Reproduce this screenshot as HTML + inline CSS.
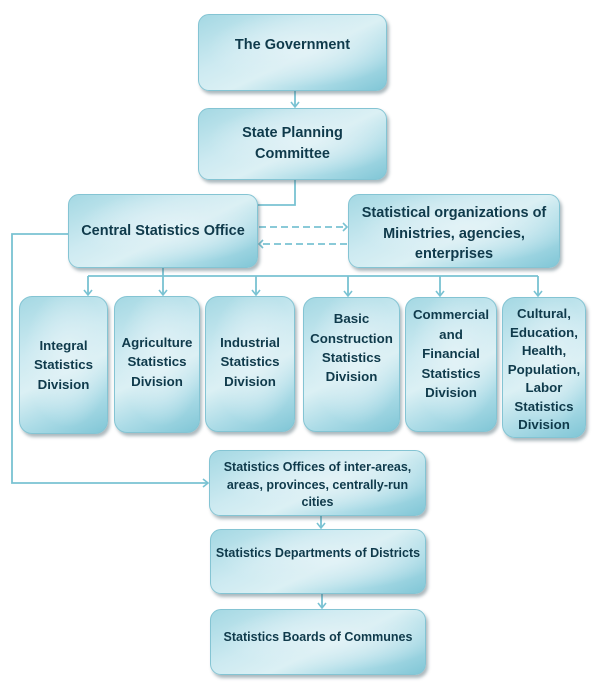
<!DOCTYPE html>
<html><head><meta charset="utf-8"><style>
html,body{margin:0;padding:0;background:#fff;}
body{width:600px;height:697px;position:relative;overflow:hidden;font-family:"Liberation Sans",Arial,sans-serif;}
.b{position:absolute;box-sizing:border-box;border:1.5px solid #84c4d3;border-radius:11px;
background:
radial-gradient(ellipse at 55% 45%, rgba(228,243,247,0.85) 0%, rgba(222,240,245,0.5) 35%, rgba(222,240,245,0) 65%),
linear-gradient(155deg,#a4d8e3 0%,#cdeaf1 35%,#dbf0f4 55%,#addce7 76%,#80c6d6 100%);
box-shadow:2px 3px 3px rgba(70,100,110,0.45);
display:flex;align-items:center;justify-content:center;text-align:center;
color:#0f3a4b;font-weight:bold;}
.t{font-size:14.5px;line-height:20.7px;}
.d{font-size:13.3px;line-height:19.4px;border-radius:13px;}
.s{font-size:12.5px;line-height:17.8px;}
svg{position:absolute;left:0;top:0;}
</style></head><body>
<svg width="600" height="697" viewBox="0 0 600 697">
<g fill="none" stroke="#79c2d2" stroke-width="1.8">
<path d="M295 91 V107"/>
<path d="M295 180 V205 H258"/>
<path d="M68 234 H12 V483 H208"/>
<path d="M163 268 V276 M88 276 H538"/>
<path d="M88 276 V295 M163 276 V295 M256 276 V295 M348 276 V296 M440 276 V296 M538 276 V296"/>
<path d="M321 516 V528"/>
<path d="M322 594 V608"/>
<path d="M259 227 H346 M347 244 H260" stroke-dasharray="7 4"/>
<g stroke-width="1.6">
<polyline points="291,102 295,107 299,102"/>
<polyline points="203,479 208,483 203,487"/>
<polyline points="84,290 88,295 92,290"/>
<polyline points="159,290 163,295 167,290"/>
<polyline points="252,290 256,295 260,290"/>
<polyline points="344,291 348,296 352,291"/>
<polyline points="436,291 440,296 444,291"/>
<polyline points="534,291 538,296 542,291"/>
<polyline points="317,523 321,528 325,523"/>
<polyline points="318,603 322,608 326,603"/>
<polyline points="343,223 347,227 343,231"/>
<polyline points="263,240 259,244 263,248"/>
</g>
</g>
</svg>
<div class="b t" style="left:198px;top:14px;width:189px;height:77px;padding-bottom:15px;">The Government</div>
<div class="b t" style="left:198px;top:108px;width:189px;height:72px;">State Planning<br>Committee</div>
<div class="b t" style="left:68px;top:194px;width:190px;height:74px;">Central Statistics Office</div>
<div class="b t" style="left:348px;top:194px;width:212px;height:74px;padding-top:6px;">Statistical organizations of<br>Ministries, agencies,<br>enterprises</div>
<div class="b d" style="left:19px;top:296px;width:89px;height:138px;">Integral<br>Statistics<br>Division</div>
<div class="b d" style="left:114px;top:296px;width:86px;height:137px;padding-bottom:5px;">Agriculture<br>Statistics<br>Division</div>
<div class="b d" style="left:205px;top:296px;width:90px;height:136px;padding-bottom:4px;">Industrial<br>Statistics<br>Division</div>
<div class="b d" style="left:303px;top:297px;width:97px;height:135px;padding-bottom:33px;">Basic<br>Construction<br>Statistics<br>Division</div>
<div class="b d" style="left:405px;top:297px;width:92px;height:135px;padding-bottom:21px;">Commercial<br>and<br>Financial<br>Statistics<br>Division</div>
<div class="b d" style="left:502px;top:297px;width:84px;height:141px;padding-top:5px;line-height:18.5px;">Cultural,<br>Education,<br>Health,<br>Population,<br>Labor<br>Statistics<br>Division</div>
<div class="b s" style="left:209px;top:450px;width:217px;height:66px;padding-top:5px;">Statistics Offices of inter-areas,<br>areas, provinces, centrally-run<br>cities</div>
<div class="b s" style="left:210px;top:529px;width:216px;height:65px;padding-bottom:15px;">Statistics Departments of Districts</div>
<div class="b s" style="left:210px;top:609px;width:216px;height:66px;padding-bottom:8px;">Statistics Boards of Communes</div>
</body></html>
